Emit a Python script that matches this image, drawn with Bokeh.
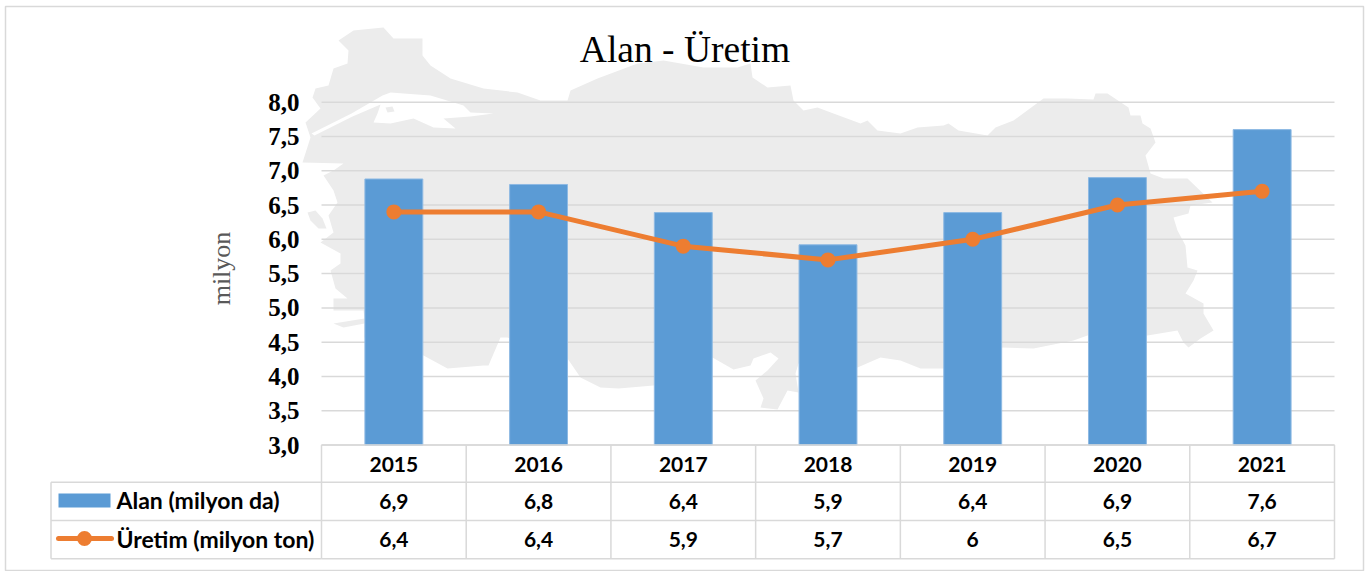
from bokeh.plotting import figure
from bokeh.embed import file_html
from bokeh.resources import INLINE
from bokeh.core.properties import value
from bokeh.models import Range1d, LinearAxis, FixedTicker, ColumnDataSource

# ---- data -------------------------------------------------------------
years = ["2015", "2016", "2017", "2018", "2019", "2020", "2021"]
alan = [6.88, 6.80, 6.39, 5.92, 6.39, 6.90, 7.60]
uretim = [6.4, 6.4, 5.9, 5.7, 6.0, 6.5, 6.7]
alan_labels = ["6,9", "6,8", "6,4", "5,9", "6,4", "6,9", "7,6"]
uretim_labels = ["6,4", "6,4", "5,9", "5,7", "6", "6,5", "6,7"]
y_ticks = [3.0, 3.5, 4.0, 4.5, 5.0, 5.5, 6.0, 6.5, 7.0, 7.5, 8.0]
series_names = ["Alan (milyon da)", "Üretim (milyon ton)"]

# background map outline, traced in page pixels
map_x = [338,353,383,393,422,422,430,450,483,517,540,567,570,597,637,663,703,737,750,752,767,790,793,803,817,833,860,867,877,900,
         917,943,948,958,987,995,1013,1043,1067,1093,1095,1107,1128,1130,1140,1142,1150,1155,1145,1150,1163,1187,1212,1190,1188,1173,1177,1185,1187,1197,1193,
         1185,1203,1203,1213,1200,1188,1183,1177,1147,1087,1073,1033,1000,943,920,900,880,857,798,795,798,787,777,760,763,755,767,778,770,753,750,733,712,
         653,618,600,580,567,507,500,488,483,447,423,364,364,343,333,364,363,333,333,347,335,330,340,340,320,333,328,337,333,323,333,343,302,310,305,320,312,
         315,328,333,347,348]
map_y = [40,30,27,38,38,55,65,78,88,92,100,100,90,78,63,60,67,67,63,77,87,85,100,110,107,113,123,120,130,133,
         127,125,123,130,135,127,120,98,98,99,93,93,107,115,115,123,128,142,155,173,178,178,202,205,213,217,230,245,267,270,280,
         293,303,313,330,338,347,342,330,335,335,340,348,347,368,368,360,357,367,363,373,392,390,409,407,398,380,370,358,352,358,365,369,357,
         385,388,387,377,358,337,337,365,365,368,355,337,323,327,323,318,310,310,298,298,288,270,263,253,242,232,215,202,190,175,170,163,162,137,122,108,97,
         88,85,68,63,50]
sea_x = [382,390,430,463,470,493,470,443,455,433,413,390,373,377,380,352,314,311,351]
sea_y = [95,92,95,105,112,113,116,118,128,127,118,123,122,113,104,116,135,133,113]
island_x = [385,392,394,387]
island_y = [107,106,111,112]
island2_x = [307,315,322,326,318,310]
island2_y = [212,210,218,228,228,220]

GRID = "#D9D9D9"
BLUE = "#5B9BD5"
ORANGE = "#ED7D31"
W, H = 1365, 571

# main scales: categories 1..7 span px 321..1334, values 3..8 span px 444.5..101.7
px_per_cat = (1334 - 321) / 7
px_per_val = (444.5 - 101.7) / 5
xr = Range1d(0.5 - 321 / px_per_cat, 7.5 + (W - 1334) / px_per_cat)
yr = Range1d(3 - (H - 444.5) / px_per_val, 8 + 101.7 / px_per_val)

p = figure(width=W, height=H, x_range=xr, y_range=yr, output_backend="svg", toolbar_location=None,
           x_axis_type=None, y_axis_type=None, min_border=0, outline_line_color=None,
           background_fill_color="white", border_fill_color="white", margin=(0, 0, 0, 0))
p.grid.visible = False
p.extra_x_ranges["px"] = Range1d(0, W)
p.extra_y_ranges["px"] = Range1d(H, 0)

idx = list(range(1, 8))

# chart border and map
p.quad(left=5, right=1363, top=6, bottom=570, fill_color=None, line_color=GRID, line_width=1.5,
       x_range_name="px", y_range_name="px")
p.patch(map_x, map_y, fill_color="#ECECEC", line_color=None, x_range_name="px", y_range_name="px")
p.patch(sea_x, sea_y, fill_color="white", line_color=None, x_range_name="px", y_range_name="px")
p.patch(island_x, island_y, fill_color="#ECECEC", line_color=None, x_range_name="px", y_range_name="px")
p.patch(island2_x, island2_y, fill_color="#ECECEC", line_color=None, x_range_name="px", y_range_name="px")

# gridlines
p.segment(x0=[0.5] * len(y_ticks), x1=[7.5] * len(y_ticks), y0=y_ticks, y1=y_ticks, line_color=GRID, line_width=1.5)

# series
p.vbar(x=idx, top=alan, bottom=3, width=0.4, fill_color=BLUE, line_color="#8DB9E3", line_width=1)
p.line(idx, uretim, line_color=ORANGE, line_width=5)
p.scatter(idx, uretim, size=15, fill_color=ORANGE, line_color=ORANGE, line_width=0)

# y axis
yax = LinearAxis(ticker=FixedTicker(ticks=y_ticks), fixed_location=0.5, axis_line_color=None,
                 major_tick_line_color=None, minor_tick_line_color=None, major_label_standoff=16,
                 major_label_text_font="Liberation Serif", major_label_text_font_style="bold",
                 major_label_text_font_size="25px", major_label_text_color="#000000",
                 major_label_overrides={t: f"{t:.1f}".replace(".", ",") for t in y_ticks})
p.add_layout(yax, "left")

# data table rules
row_lines = [(50.5, 321, 481.7), (50.5, 321, 520), (50.5, 321, 558.3), (321, 1334, 444.5), (321, 1334, 481.7), (321, 1334, 520), (321, 1334, 558.3)]
p.segment(x0=[r[0] for r in row_lines], x1=[r[1] for r in row_lines], y0=[r[2] for r in row_lines], y1=[r[2] for r in row_lines],
          line_color=GRID, line_width=1.5, x_range_name="px", y_range_name="px")
p.segment(x0=[50.5], x1=[50.5], y0=[481.7], y1=[558.3], line_color=GRID, line_width=1.5, x_range_name="px", y_range_name="px")
edges = [0.5 + i for i in range(8)]
p.segment(x0=edges, x1=edges, y0=[3] * 8, y1=[3 - (558.3 - 444.5) / px_per_val] * 8, line_color=GRID, line_width=1.5)

# table texts
table_font = dict(text_font=value("Lato"), text_font_style="bold", text_font_size="21px", text_color="#000000",
                  text_align="center", text_baseline="middle")
for labels, row in ((years, 463.5), (alan_labels, 501), (uretim_labels, 539)):
    src = ColumnDataSource(dict(x=idx, y=[row] * 7, t=labels))
    p.text(x="x", y="y", text="t", source=src, y_range_name="px", **table_font)

legend_font = dict(table_font, text_align="left", text_font_size="23px")
p.text(x=[116, 116], y=[499.5, 538], text=series_names, x_range_name="px", y_range_name="px", **legend_font)

# legend keys
p.quad(left=58, right=110, top=493, bottom=507, fill_color=BLUE, line_color=None, x_range_name="px", y_range_name="px")
p.line([58, 111], [538, 538], line_color=ORANGE, line_width=5, line_cap="round", x_range_name="px", y_range_name="px")
p.scatter([84], [538], size=15, fill_color=ORANGE, line_color=None, x_range_name="px", y_range_name="px")

# title and axis title
p.text(x=[684.5], y=[49], text=["Alan - Üretim"], text_font=value("Liberation Serif"), text_font_size="37.5px",
       text_color="#000000", text_align="center", text_baseline="middle", x_range_name="px", y_range_name="px")
p.text(x=[221], y=[268], text=["milyon"], angle=1.5708, text_font=value("Liberation Serif"), text_font_size="26px",
       text_color="#595959", text_align="center", text_baseline="middle", x_range_name="px", y_range_name="px")

open("out.html", "w").write(file_html(p, INLINE))
